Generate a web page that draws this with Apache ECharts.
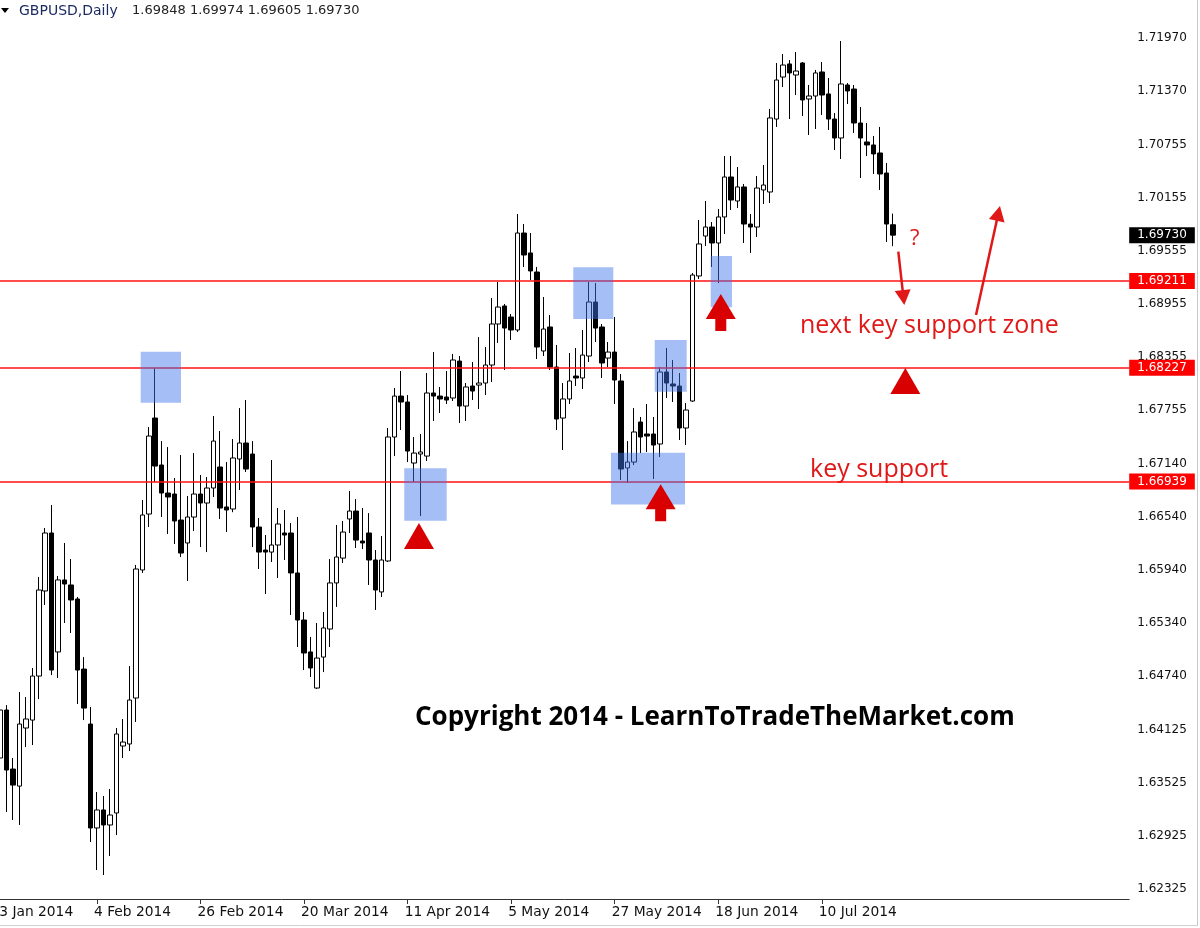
<!DOCTYPE html>
<html><head><meta charset="utf-8">
<script src="https://cdn.jsdelivr.net/npm/echarts@6/dist/echarts.min.js"></script>
<style>html,body{margin:0;padding:0;background:#fff}#c{width:1200px;height:928px}</style>
</head><body><div id="c"></div>
<script>
// ---- categories (trading days) ----
const janDays=[13,14,15,16,17,20,21,22,23,24,27,28,29,30,31];
const febDays=[3,4,5,6,7,10,11,12,13,14,17,18,19,20,21,24,25,26,27,28];
const marDays=[3,4,5,6,7,10,11,12,13,14,17,18,19,20,21,24,25,26,27,28,31];
const aprDays=[1,2,3,4,7,8,9,10,11,14,15,16,17,18,21,22,23,24,25,28,29,30];
const mayDays=[1,2,5,6,7,8,9,12,13,14,15,16,19,20,21,22,23,26,27,28,29,30];
const junDays=[2,3,4,5,6,9,10,11,12,13,16,17,18,19,20,23,24,25,26,27,30];
const julDays=[1,2,3,4,7,8,9,10,11,14,15,16,17,18,21,22,23,24,25];
const futureSlots=36;
const labelEvery=16;

// ---- OHLC (index 0 = 13 Jan, off screen) ----
const opens=[null,
1.63804,1.64348,1.63679,1.63486,1.64144,1.64234,1.64733,1.65697,1.66354,1.65006,
1.65822,1.65765,1.65606,1.64812,1.64189,1.63011,1.63215,1.63045,1.63181,1.63940,
1.63963,1.64484,1.65935,1.66569,1.67657,1.67125,1.66807,1.66796,1.66501,1.66241,
1.66535,1.66796,1.66694,1.66864,1.67102,1.66649,1.66626,1.67193,1.67374,1.67249,
1.66422,1.66161,1.66138,1.66218,1.66354,1.66354,1.65901,1.65368,1.65006,1.64597,
1.64948,1.65266,1.65788,1.66070,1.66513,1.66603,1.66263,1.66354,1.66048,1.65686,
1.66037,1.67442,1.67906,1.67839,1.67147,1.67249,1.67226,1.67941,1.67906,1.67895,
1.67884,1.68303,1.67793,1.68020,1.68031,1.68054,1.68258,1.68723,1.68927,1.68802,
1.68655,1.69754,1.69528,1.69312,1.68417,1.68689,1.68235,1.67657,1.67873,1.68133,
1.68111,1.68360,1.68972,1.68689,1.68337,1.68405,1.68077,1.67091,1.67158,1.67612,
1.67476,1.67476,1.67363,1.68179,1.68043,1.68020,1.67544,1.67850,1.69267,1.69720,
1.69822,1.69641,1.69936,1.70389,1.70117,1.70276,1.69856,1.69822,1.70242,1.70219,
1.71046,1.71522,1.71670,1.71545,1.71681,1.71273,1.71307,1.71579,1.71330,1.71046,
1.70831,1.71432,1.71386,1.71001,1.70786,1.70752,1.70661,1.70434,1.69848];
const closes=[null,
1.64348,1.63668,1.63497,1.64189,1.64246,1.64733,1.65708,1.66354,1.64801,1.65822,
1.65776,1.65595,1.64801,1.64370,1.63011,1.63215,1.63045,1.63158,1.64076,1.63985,
1.64461,1.65946,1.66558,1.67453,1.67113,1.66807,1.66762,1.66490,1.66127,1.66535,
1.66796,1.66694,1.66864,1.67396,1.66637,1.66615,1.67204,1.67374,1.67079,1.66422,
1.66138,1.66138,1.66218,1.66456,1.66331,1.65901,1.65368,1.64994,1.64824,1.64937,
1.65278,1.65788,1.66082,1.66365,1.66603,1.66274,1.66241,1.66048,1.65708,1.66048,
1.67442,1.67906,1.67839,1.67283,1.67260,1.67272,1.67941,1.67906,1.67873,1.67861,
1.68315,1.67793,1.68009,1.67963,1.68054,1.68258,1.68723,1.68915,1.68677,1.68655,
1.69754,1.69505,1.69324,1.68462,1.68666,1.68235,1.67646,1.67873,1.68077,1.68111,
1.68371,1.68972,1.68677,1.68281,1.68405,1.68088,1.67079,1.67158,1.67499,1.67442,
1.67453,1.67351,1.68179,1.68054,1.68020,1.67544,1.67748,1.69278,1.69630,1.69822,
1.69641,1.69936,1.70389,1.70128,1.70276,1.69856,1.69822,1.70264,1.70298,1.71058,
1.71488,1.71658,1.71568,1.71590,1.71262,1.71307,1.71568,1.71318,1.71046,1.70831,
1.71443,1.71364,1.71001,1.70831,1.70752,1.70650,1.70423,1.69856,1.69730];
const lows=[null,
1.63634,1.63192,1.63101,1.63045,1.63928,1.63951,1.64472,1.65538,1.64744,1.64710,
1.65334,1.65221,1.64416,1.64234,1.62852,1.62534,1.62478,1.62693,1.62931,1.63804,
1.63883,1.64212,1.65901,1.66422,1.66932,1.66535,1.66343,1.66229,1.66082,1.65810,
1.66377,1.66195,1.66138,1.66762,1.66513,1.66365,1.66590,1.66841,1.67045,1.66195,
1.65946,1.65663,1.66025,1.65844,1.66048,1.65425,1.65062,1.64801,1.64722,1.64586,
1.64778,1.65062,1.65516,1.66014,1.66354,1.66184,1.66172,1.65765,1.65482,1.65629,
1.66025,1.67226,1.67521,1.67158,1.66932,1.66547,1.67170,1.67623,1.67714,1.67816,
1.67850,1.67601,1.67623,1.67861,1.67759,1.67918,1.68065,1.68508,1.68201,1.68541,
1.68632,1.69369,1.69222,1.68326,1.68360,1.68201,1.67521,1.67295,1.67816,1.68020,
1.67986,1.68292,1.68519,1.68111,1.68235,1.67816,1.66954,1.66921,1.67125,1.67260,
1.67272,1.66966,1.67215,1.67884,1.67839,1.67408,1.67351,1.67839,1.69233,1.69607,
1.69369,1.69187,1.69743,1.70015,1.70037,1.69641,1.69528,1.69709,1.70083,1.70094,
1.70956,1.71409,1.71046,1.71318,1.71080,1.70865,1.70933,1.71092,1.70922,1.70695,
1.70593,1.71216,1.70888,1.70378,1.70627,1.70423,1.70242,1.69652,1.69605];
const highs=[null,
1.64632,1.64404,1.63804,1.64552,1.64495,1.64824,1.65856,1.66411,1.66671,1.65867,
1.66241,1.66059,1.65629,1.64948,1.64382,1.63419,1.63373,1.63452,1.64144,1.64246,
1.64846,1.65992,1.66728,1.67555,1.68222,1.67396,1.67328,1.66977,1.67238,1.66773,
1.67260,1.67011,1.66988,1.67680,1.67510,1.67158,1.67419,1.67770,1.67861,1.67396,
1.66524,1.66331,1.67181,1.66637,1.66615,1.66467,1.66535,1.65459,1.65176,1.65334,
1.65459,1.66059,1.66445,1.66490,1.66830,1.66739,1.66637,1.66580,1.66161,1.66320,
1.67544,1.67997,1.68190,1.67918,1.67442,1.67476,1.68167,1.68405,1.68009,1.68190,
1.68383,1.68360,1.68054,1.68292,1.68575,1.68462,1.69017,1.69199,1.68950,1.68836,
1.69970,1.69856,1.69754,1.69369,1.69029,1.68825,1.68485,1.68054,1.68394,1.68451,
1.68655,1.69199,1.69187,1.68723,1.68519,1.68802,1.68156,1.67396,1.67770,1.67669,
1.67816,1.67669,1.68235,1.68451,1.68315,1.68167,1.67827,1.69301,1.69902,1.70117,
1.69879,1.70026,1.70627,1.70627,1.70502,1.70310,1.69970,1.70400,1.70525,1.71160,
1.71681,1.71783,1.71715,1.71806,1.71692,1.71432,1.71602,1.71692,1.71511,1.71114,
1.71930,1.71454,1.71432,1.71182,1.71001,1.70854,1.70956,1.70548,1.69974];

// ---- axis / level values ----
const yTicks=[1.71970,1.71370,1.70755,1.70155,1.69555,1.68955,1.68355,1.67755,1.67140,1.66540,1.65940,1.65340,1.64740,1.64125,1.63525,1.62925,1.62325];
const yMin=1.62206, yMax=1.72395;
const keyLevels=[1.69211,1.68227,1.66939];
const lastPrice=1.69730;
const titleOHLC=[1.69848,1.69974,1.69605,1.69730];

// ---- annotations in data units: [barIndex, price, ...] ----
const zones=[[22.75,1.68409,28.98,1.67831],[63.48,1.67087,70.04,1.66493],[89.60,1.69365,95.78,1.68779],
             [95.42,1.67264,106.86,1.66677],[102.18,1.68541,107.12,1.67955],[110.83,1.69494,114.12,1.68912]];
const triangles=[[65.75,1.66173],[140.91,1.67929]];
const upArrows=[[103.10,1.66906],[112.39,1.69063]];
const pathArrows=[[139.82,1.69542,140.75,1.68938],[151.83,1.68825,155.53,1.70060]];

// ---- build ----
const dates=[].concat(
  janDays.map(d=>d+' Jan 2014'),febDays.map(d=>d+' Feb 2014'),marDays.map(d=>d+' Mar 2014'),
  aprDays.map(d=>d+' Apr 2014'),mayDays.map(d=>d+' May 2014'),junDays.map(d=>d+' Jun 2014'),
  julDays.map(d=>d+' Jul 2014'));
const categories=dates.concat(Array.from({length:futureSlots},(_,k)=>'f'+(k+1)));
const nCat=categories.length;
const candleData=dates.map((d,i)=>opens[i]==null?['-','-','-','-']:[opens[i],closes[i],lows[i],highs[i]]);
const showIdx=(i)=>i%labelEvery===0 && i<dates.length;

const RED='#e01818', LINE_RED='#ff1010', FILL_RED='#d80000';
const FONT='"DejaVu Sans", Verdana, sans-serif';

const chart=echarts.init(document.getElementById('c'),null,{renderer:'canvas'});
const priceLabel=(bg)=>({show:true,position:'end',distance:0,color:'#fff',backgroundColor:bg,
  fontFamily:FONT,fontSize:12,padding:[2,8,2,8],formatter:(p)=>Number(p.value).toFixed(5)});

chart.setOption({
  animation:false,
  backgroundColor:'#fff',
  grid:{left:-9.78,right:70.8,top:0,bottom:29,containLabel:false,outerBoundsMode:'none'},
  xAxis:[{
    type:'category',data:categories,boundaryGap:true,
    axisLine:{lineStyle:{color:'#333',width:1}},
    axisTick:{show:true,alignWithLabel:true,interval:(i)=>showIdx(i),length:5,lineStyle:{color:'#333'}},
    axisLabel:{interval:(i)=>showIdx(i),align:'left',margin:6,color:'#111',fontFamily:FONT,fontSize:13.8,padding:[0,0,0,-3]},
    splitLine:{show:false}
  },{
    type:'value',min:-0.5,max:nCat-0.5,show:false
  }],
  yAxis:{
    type:'value',position:'right',min:yMin,max:yMax,scale:true,
    axisLine:{show:true,lineStyle:{color:'#333',width:1}},
    axisTick:{show:true,length:4,customValues:yTicks,lineStyle:{color:'#333'}},
    axisLabel:{customValues:yTicks,color:'#111',fontFamily:FONT,fontSize:12,margin:8,padding:[0,0,5,0],
      formatter:(v)=>v.toFixed(5)},
    splitLine:{show:false}
  },
  series:[{
    type:'candlestick',data:candleData,barWidth:5,z:2,
    itemStyle:{color:'#ffffff',color0:'#000000',borderColor:'#000000',borderColor0:'#000000',borderWidth:1},
    markLine:{
      silent:true,symbol:'none',z:3,animation:false,precision:5,
      data:keyLevels.map(v=>({yAxis:v,lineStyle:{color:LINE_RED,width:1.5,type:'solid'},label:priceLabel('#ff0000')}))
        .concat([{yAxis:lastPrice,lineStyle:{color:'rgba(0,0,0,0)',width:0},label:priceLabel('#000000')}])
    }
  },{
    type:'custom',name:'zones',xAxisIndex:1,yAxisIndex:0,z:6,silent:true,clip:false,
    data:zones,encode:{x:[0,2],y:[1,3]},
    renderItem:(params,api)=>{
      const a=api.coord([api.value(0),api.value(1)]),b=api.coord([api.value(2),api.value(3)]);
      return {type:'rect',shape:{x:Math.min(a[0],b[0]),y:Math.min(a[1],b[1]),width:Math.abs(b[0]-a[0]),height:Math.abs(b[1]-a[1])},
        style:{fill:'rgba(64,117,234,0.47)'}};
    }
  },{
    type:'custom',name:'triangles',xAxisIndex:1,yAxisIndex:0,z:7,silent:true,clip:false,
    data:triangles,encode:{x:0,y:1},
    renderItem:(params,api)=>{
      const p=api.coord([api.value(0),api.value(1)]);
      return {type:'polygon',shape:{points:[[p[0]-15,p[1]],[p[0]+15,p[1]],[p[0],p[1]-26]]},style:{fill:FILL_RED}};
    }
  },{
    type:'custom',name:'upArrows',xAxisIndex:1,yAxisIndex:0,z:7,silent:true,clip:false,
    data:upArrows,encode:{x:0,y:1},
    renderItem:(params,api)=>{
      const p=api.coord([api.value(0),api.value(1)]);const x=p[0],y=p[1];
      return {type:'polygon',shape:{points:[[x,y],[x+15,y+25],[x+5.5,y+25],[x+5.5,y+37],[x-5.5,y+37],[x-5.5,y+25],[x-15,y+25]]},
        style:{fill:FILL_RED}};
    }
  },{
    type:'custom',name:'pathArrows',xAxisIndex:1,yAxisIndex:0,z:7,silent:true,clip:false,
    data:pathArrows,encode:{x:[0,2],y:[1,3]},
    renderItem:(params,api)=>{
      const a=api.coord([api.value(0),api.value(1)]),b=api.coord([api.value(2),api.value(3)]);
      const dx=b[0]-a[0],dy=b[1]-a[1],len=Math.hypot(dx,dy),ux=dx/len,uy=dy/len;
      const hl=15,hw=8,bx=b[0]-ux*hl,by=b[1]-uy*hl;
      return {type:'group',children:[
        {type:'line',shape:{x1:a[0],y1:a[1],x2:bx+ux*2,y2:by+uy*2},style:{stroke:RED,lineWidth:2.5}},
        {type:'polygon',shape:{points:[[b[0],b[1]],[bx-uy*hw,by+ux*hw],[bx+uy*hw,by-ux*hw]]},style:{fill:RED}}
      ]};
    }
  }],
  graphic:[
    {type:'polygon',shape:{points:[[1,8],[9,8],[5,13]]},style:{fill:'#000'},z:10},
    {type:'text',x:19,y:11,style:{text:'GBPUSD,Daily',font:'14px '+FONT,fill:'#1c2a62',verticalAlign:'middle'},z:10},
    {type:'text',x:132,y:11,style:{text:titleOHLC.map(v=>v.toFixed(5)).join(' '),font:'13px '+FONT,fill:'#222',verticalAlign:'middle'},z:10},
    {type:'text',x:910,y:239,style:{text:'?',font:'22px "Open Sans", sans-serif',fill:RED,verticalAlign:'middle'},z:10},
    {type:'text',x:800,y:326,style:{text:'next key support zone',font:'25px "Open Sans", sans-serif',fill:RED,verticalAlign:'middle'},z:10},
    {type:'text',x:810,y:470,style:{text:'key support',font:'25px "Open Sans", sans-serif',fill:RED,verticalAlign:'middle'},z:10},
    {type:'text',x:415,y:718,style:{text:'Copyright 2014 - LearnToTradeTheMarket.com',font:'bold 26px "Open Sans", sans-serif',fill:'#000',verticalAlign:'middle'},z:10},
    {type:'line',shape:{x1:1197.5,y1:0,x2:1197.5,y2:926},style:{stroke:'#c8c8c8',lineWidth:1},z:10},
    {type:'line',shape:{x1:0,y1:925.5,x2:1198,y2:925.5},style:{stroke:'#d0d0d0',lineWidth:1},z:10}
  ]
});
</script></body></html>
